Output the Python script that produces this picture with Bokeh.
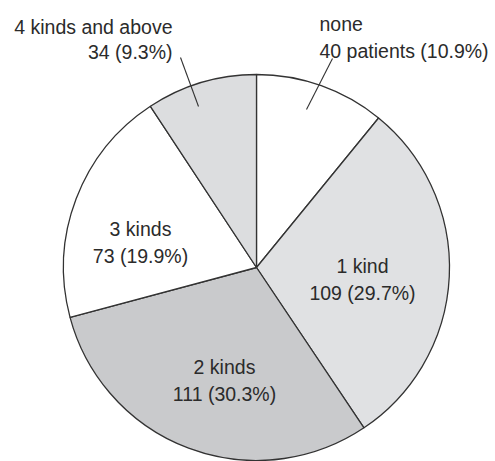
import math
from bokeh.plotting import figure
from bokeh.models import Range1d
from bokeh.core.properties import value
from bokeh.embed import file_html
from bokeh.resources import INLINE

# Number of patients by count of drug kinds, clockwise from the top
categories = ["none", "1 kind", "2 kinds", "3 kinds", "4 kinds and above"]
patients = [40, 109, 111, 73, 34]
percent_labels = ["40 patients (10.9%)", "109 (29.7%)", "111 (30.3%)", "73 (19.9%)", "34 (9.3%)"]
fills = ["#ffffff", "#e0e1e3", "#c9cacc", "#ffffff", "#dcdddf"]

W, H = 495, 461
CX, CY, R = 256, 267, 193  # pie centre / radius in page pixels (y down)
FONT = value("Liberation Sans")
FONT_SIZE = "19.5px"
TEXT_COLOR = "#2b2b2b"


def up(y):
    """page y (down) -> plot y (up)"""
    return H - y


p = figure(width=W, height=H, output_backend="svg", toolbar_location=None,
           x_range=Range1d(0, W), y_range=Range1d(0, H), min_border=0)
p.axis.visible = False
p.grid.visible = False
p.outline_line_color = None
p.background_fill_color = "white"
p.border_fill_color = "white"

total = sum(patients)
starts, ends = [], []
cum = 0
for v in patients:
    starts.append(math.pi / 2 - 2 * math.pi * cum / total)
    cum += v
    ends.append(math.pi / 2 - 2 * math.pi * cum / total)

p.wedge(x=[CX] * len(patients), y=[up(CY)] * len(patients), radius=R,
        start_angle=starts, end_angle=ends, direction="clock",
        fill_color=fills, line_color="#333333", line_width=1.3)

# Labels inside the larger slices: (x centre, first baseline)
inner = {1: (362, 265), 2: (224, 366), 3: (140, 228)}
LINE_GAP = 27
for i, (lx, b1) in inner.items():
    p.text(x=[lx, lx], y=[up(b1), up(b1 + LINE_GAP)],
           text=[categories[i], percent_labels[i]],
           text_align="center", text_baseline="alphabetic",
           text_font=FONT, text_font_size=FONT_SIZE, text_color=TEXT_COLOR)

# Callout labels above the pie for the two small slices
p.text(x=[172, 172], y=[up(26), up(26 + LINE_GAP - 2)],
       text=[categories[4], percent_labels[4]],
       text_align="right", text_baseline="alphabetic",
       text_font=FONT, text_font_size=FONT_SIZE, text_color=TEXT_COLOR)
p.text(x=[319, 319], y=[up(23), up(23 + LINE_GAP)],
       text=[categories[0], percent_labels[0]],
       text_align="left", text_baseline="alphabetic",
       text_font=FONT, text_font_size=FONT_SIZE, text_color=TEXT_COLOR)

# Leader lines from callouts into their slices
p.segment(x0=[180, 332], y0=[up(57), up(58)], x1=[198, 306], y1=[up(106), up(109)],
          line_color="#333333", line_width=1.1)

open("out.html", "w").write(file_html(p, INLINE))
